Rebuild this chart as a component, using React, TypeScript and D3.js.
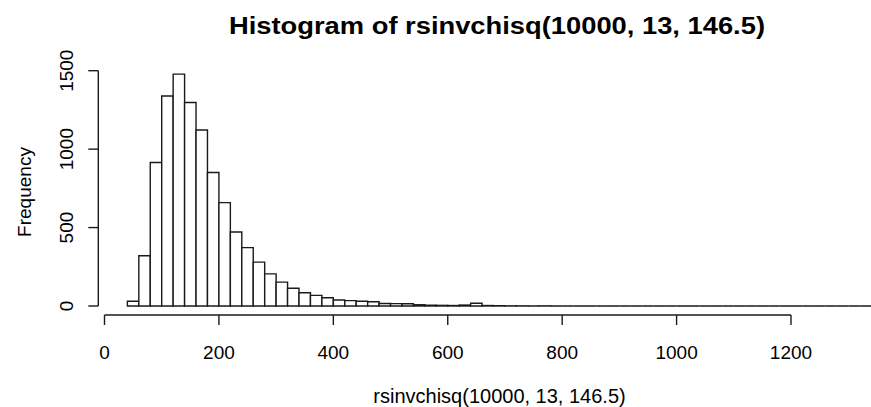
import React from "react";
import * as d3 from "d3";

// Histogram bins (left edges, width 20) and counts
const binStart = 40;
const binWidth = 20;
const counts: number[] = [
  30, 320, 915, 1339, 1478, 1297, 1122, 851, 659, 472,
  372, 280, 205, 152, 113, 84, 68, 53, 38, 34,
  30, 27, 16, 15, 14, 8, 5, 4, 3, 6,
  18, 3, 2, 1, 1, 0, 1, 0, 0, 0,
  0, 0, 0, 0, 0, 0, 0, 0, 0, 0,
  0, 0, 0, 0, 0, 0, 0, 0, 0, 0,
  0, 0, 0, 0, 0, 0, 0, 0, 0, 0,
];
const xTicks = [0, 200, 400, 600, 800, 1000, 1200];
const yTicks = [0, 500, 1000, 1500];
const title = "Histogram of rsinvchisq(10000, 13, 146.5)";
const xLabel = "rsinvchisq(10000, 13, 146.5)";
const yLabel = "Frequency";

const W = 871;
const H = 407;

export default function App() {
  const x = d3.scaleLinear().domain([0, 1200]).range([104.5, 791]);
  const y = d3.scaleLinear().domain([0, 1500]).range([306, 70.7]);
  const bins = counts.map((c, i) => ({
    x0: binStart + i * binWidth,
    x1: binStart + (i + 1) * binWidth,
    c,
  }));
  const font = "'Liberation Sans', Arial, Helvetica, sans-serif";
  const axisY = 315;
  const axisX = 98.3;
  const stroke = "#1a1a1a";
  const barPath = (b: { x0: number; x1: number; c: number }) => {
    const p = d3.path();
    p.moveTo(x(b.x0), y(0));
    p.lineTo(x(b.x0), y(b.c));
    p.lineTo(x(b.x1), y(b.c));
    p.lineTo(x(b.x1), y(0));
    p.closePath();
    return p.toString();
  };
  return (
    <svg
      width={W}
      height={H}
      style={{ position: "absolute", left: 0, top: 0, display: "block", background: "#fff" }}
      fontFamily={font}
    >
      <rect x={0} y={0} width={W} height={H} fill="#fff" />
      <g>
        {bins.map((b, i) => (
          <path
            key={i}
            d={barPath(b)}
            fill="#fff"
            stroke={stroke}
            strokeWidth={1.4}
          />
        ))}
      </g>
      {/* x axis */}
      <g stroke={stroke} strokeWidth={1.4} fill="none">
        <line x1={x(xTicks[0])} x2={x(xTicks[xTicks.length - 1])} y1={axisY} y2={axisY} />
        {xTicks.map((t) => (
          <line key={t} x1={x(t)} x2={x(t)} y1={axisY} y2={axisY + 10} />
        ))}
      </g>
      {xTicks.map((t) => (
        <text key={t} x={x(t)} y={359} fontSize={19} textAnchor="middle" fill="#000">
          {t}
        </text>
      ))}
      {/* y axis */}
      <g stroke={stroke} strokeWidth={1.4} fill="none">
        <line x1={axisX} x2={axisX} y1={y(yTicks[0])} y2={y(yTicks[yTicks.length - 1])} />
        {yTicks.map((t) => (
          <line key={t} x1={axisX - 10} x2={axisX} y1={y(t)} y2={y(t)} />
        ))}
      </g>
      {yTicks.map((t) => (
        <text
          key={t}
          transform={`translate(73,${y(t)}) rotate(-90)`}
          fontSize={19}
          textAnchor="middle"
          fill="#000"
        >
          {t}
        </text>
      ))}
      <text
        transform={`translate(31,${192}) rotate(-90)`}
        fontSize={19}
        textAnchor="middle"
        fill="#000"
      >
        {yLabel}
      </text>
      <text x={499.5} y={403} fontSize={20} textAnchor="middle" fill="#000">
        {xLabel}
      </text>
      <text
        x={497}
        y={33.5}
        fontSize={23}
        fontWeight="bold"
        textAnchor="middle"
        fill="#000"
        textLength={536}
        lengthAdjust="spacingAndGlyphs"
      >
        {title}
      </text>
    </svg>
  );
}
